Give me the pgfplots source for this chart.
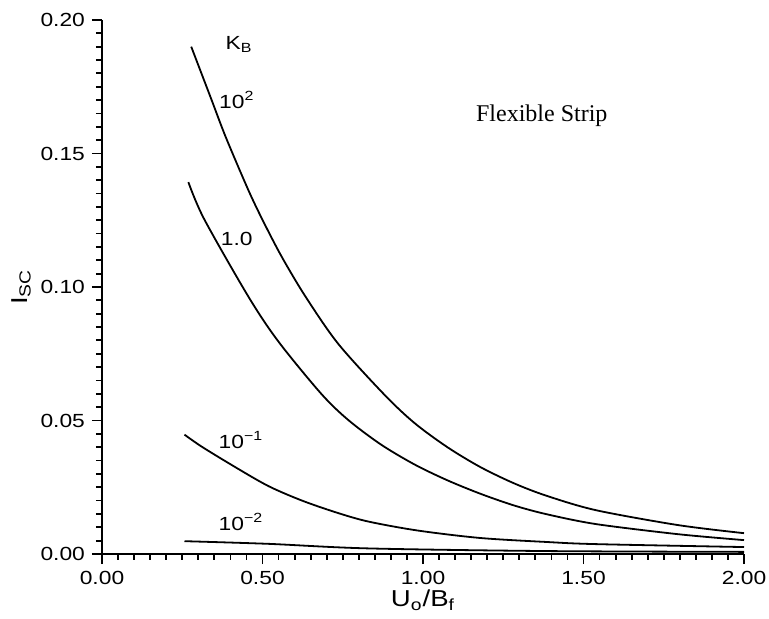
\documentclass[border=0pt]{standalone}
\usepackage{fontspec}
\setmainfont{Liberation Sans}
\newfontfamily\tickfont[FakeStretch=1.2]{Liberation Sans}
\newfontfamily\serif{Liberation Serif}
\usepackage{pgfplots}
\pgfplotsset{compat=1.18}
\pgfplotsset{curve/.style={black, line width=0.9pt, smooth, no marks}}

\begin{document}
\begin{tikzpicture}
\begin{axis}[
    name=ax,
    scale only axis,
    width=321pt, height=267pt,
    xmin=0, xmax=2, ymin=0, ymax=0.2,
    axis lines=left,
    axis line style={-, line width=1.2pt},
    tick align=outside,
    major tick length=5pt,
    minor tick length=3pt,
    tick style={line width=0.9pt, black},
    xtick={0,0.5,1,1.5,2},
    ytick={0,0.05,0.1,0.15,0.2},
    minor x tick num=9,
    minor y tick num=9,
    /pgf/number format/assume math mode=true,
    xticklabel style={/pgf/number format/.cd, fixed, fixed zerofill, precision=2},
    yticklabel style={/pgf/number format/.cd, fixed, fixed zerofill, precision=2},
    scaled ticks=false,
    tick label style={font=\tickfont\fontsize{9.5}{11}\selectfont},
    xlabel={U\textsubscript{o}/B\textsubscript{f}},
    ylabel={I\textsubscript{SC}},
    label style={font=\tickfont\fontsize{11.5}{13}\selectfont},
    xlabel style={yshift=4pt},
    ylabel style={yshift=-2pt},
    clip=false,
]
% K_B = 10^2
\addplot[curve] coordinates {
 (0.278,0.190) (0.340,0.1705) (0.386,0.156) (0.457,0.136) (0.504,0.1242)
 (0.560,0.1113) (0.634,0.0964) (0.736,0.0787) (0.881,0.0595) (0.974,0.0490)
 (1.076,0.0400) (1.178,0.0326) (1.283,0.0265) (1.385,0.0218) (1.539,0.0164)
 (1.796,0.0108) (2.000,0.0078)
};
% K_B = 1.0
\addplot[curve] coordinates {
 (0.269,0.1393) (0.318,0.1255) (0.457,0.0962) (0.550,0.0795) (0.683,0.0600)
 (0.767,0.0502) (0.869,0.0410) (0.974,0.0335) (1.076,0.0276) (1.178,0.0226)
 (1.283,0.0182) (1.385,0.0149) (1.539,0.0112) (1.796,0.0074) (2.000,0.0052)
};
% K_B = 10^-1
\addplot[curve] coordinates {
 (0.257,0.0447) (0.312,0.0401) (0.417,0.0324) (0.519,0.0254) (0.621,0.0201)
 (0.726,0.0157) (0.828,0.0122) (0.983,0.0088) (1.178,0.0060) (1.385,0.0045)
 (1.539,0.0037) (2.000,0.0026)
};
% K_B = 10^-2
\addplot[curve] coordinates {
 (0.257,0.0048) (0.519,0.0038) (0.828,0.0021) (1.385,0.0011) (2.000,0.0008)
};
\begin{scope}[every node/.style={font=\tickfont\fontsize{9.5}{11}\selectfont}]
\node at (axis cs:0.427,0.1907) {K\textsubscript{B}};
\node at (axis cs:0.420,0.170) {10\textsuperscript{2}};
\node at (axis cs:0.420,0.118) {1.0};
\node at (axis cs:0.433,0.0428) {10\textsuperscript{−1}};
\node at (axis cs:0.433,0.0119) {10\textsuperscript{−2}};
\end{scope}
\node[font=\serif\fontsize{12}{14}\selectfont] at (axis cs:1.37,0.164) {Flexible Strip};
\end{axis}
\pgfresetboundingbox
\path[use as bounding box] ([shift={(-51pt,-32.5pt)}]ax.south west) rectangle ([shift={(12.5pt,10pt)}]ax.north east);
\end{tikzpicture}
\end{document}
